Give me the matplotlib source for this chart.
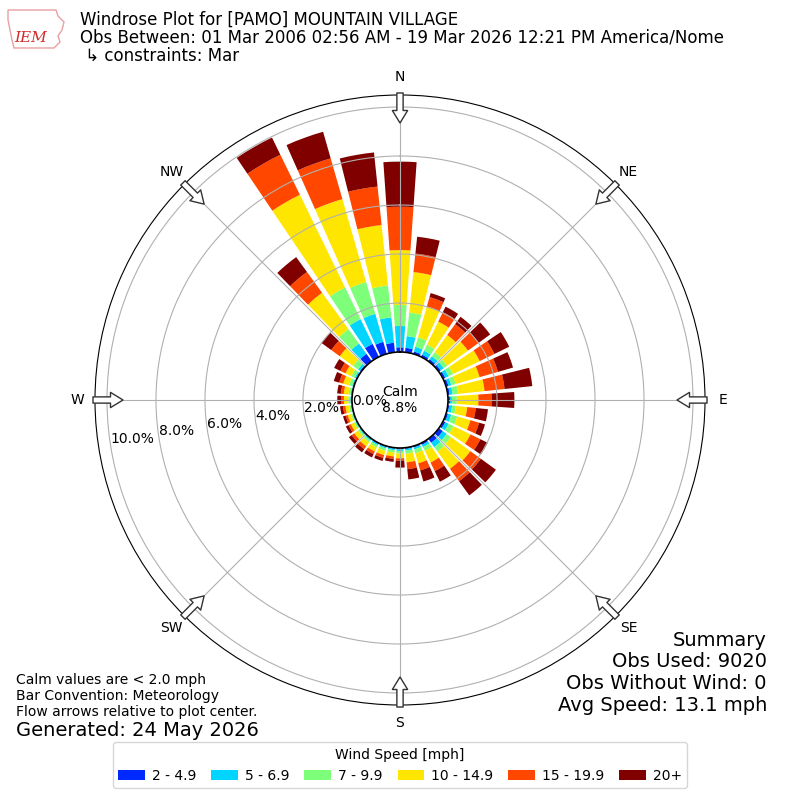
import numpy as np
import matplotlib
matplotlib.use("Agg")
import matplotlib.pyplot as plt
from matplotlib.patches import Polygon

# ---------------- data ----------------
directions = np.arange(0, 360, 10)  # degrees, meteorological
speed_labels = ["2 - 4.9", "5 - 6.9", "7 - 9.9", "10 - 14.9", "15 - 19.9", "20+"]
# percent of observations per direction bin, per speed class
pct_2_5 = [0.19, 0.18, 0.10, 0.10, 0.10, 0.10, 0.10, 0.10, 0.08, 0.08, 0.06, 0.08,
           0.10, 0.20, 0.20, 0.08, 0.06, 0.05, 0.05, 0.04, 0.04, 0.04, 0.03, 0.03,
           0.02, 0.02, 0.02, 0.03, 0.03, 0.03, 0.04, 0.06, 0.37, 0.59, 0.51, 0.39]
pct_5_7 = [0.87, 0.48, 0.20, 0.18, 0.15, 0.15, 0.15, 0.12, 0.12, 0.08, 0.12, 0.14,
           0.15, 0.20, 0.22, 0.10, 0.08, 0.07, 0.07, 0.06, 0.06, 0.06, 0.06, 0.05,
           0.04, 0.04, 0.04, 0.04, 0.04, 0.05, 0.06, 0.10, 0.52, 1.12, 1.19, 1.04]
pct_7_10 = [0.86, 0.97, 0.40, 0.27, 0.20, 0.17, 0.20, 0.18, 0.22, 0.20, 0.15, 0.25,
            0.22, 0.21, 0.22, 0.17, 0.16, 0.13, 0.10, 0.10, 0.10, 0.10, 0.09, 0.08,
            0.07, 0.06, 0.07, 0.08, 0.08, 0.12, 0.15, 0.25, 0.73, 1.44, 1.35, 1.31]
pct_10_15 = [2.24, 1.66, 1.30, 1.05, 0.87, 1.05, 1.21, 1.02, 1.09, 0.88, 0.47, 0.56,
             0.77, 0.98, 0.87, 0.53, 0.43, 0.35, 0.20, 0.16, 0.18, 0.18, 0.20, 0.19,
             0.15, 0.14, 0.15, 0.18, 0.20, 0.25, 0.27, 0.67, 1.83, 4.21, 3.52, 2.48]
pct_15_20 = [1.77, 0.76, 0.41, 0.43, 0.55, 0.54, 0.67, 0.78, 0.82, 0.54, 0.35, 0.37,
             0.45, 0.53, 0.63, 0.39, 0.30, 0.28, 0.10, 0.10, 0.12, 0.12, 0.14, 0.13,
             0.10, 0.09, 0.10, 0.12, 0.12, 0.17, 0.23, 0.43, 1.05, 1.82, 1.73, 1.58]
pct_20p = [1.84, 0.69, 0.17, 0.25, 0.37, 0.58, 0.67, 0.64, 1.14, 0.93, 0.50, 0.25,
           0.33, 0.76, 0.71, 0.48, 0.47, 0.42, 0.28, 0.12, 0.13, 0.15, 0.16, 0.14,
           0.12, 0.11, 0.12, 0.15, 0.15, 0.23, 0.28, 0.49, 0.75, 0.78, 1.13, 1.40]
series = [pct_2_5, pct_5_7, pct_7_10, pct_10_15, pct_15_20, pct_20p]

calm_pct = 8.8
rticks = [0, 2, 4, 6, 8, 10]
compass = ["N", "NE", "E", "SE", "S", "SW", "W", "NW"]

title_lines = ["Windrose Plot for [PAMO] MOUNTAIN VILLAGE",
               "Obs Between: 01 Mar 2006 02:56 AM - 19 Mar 2026 12:21 PM America/Nome",
               " \u21b3 constraints: Mar"]
notes = ["Calm values are < 2.0 mph", "Bar Convention: Meteorology",
         "Flow arrows relative to plot center."]
summary = ["Summary", "Obs Used: 9020", "Obs Without Wind: 0", "Avg Speed: 13.1 mph"]

# ---------------- figure ----------------
fig = plt.figure(figsize=(8, 8), dpi=100)
ax = fig.add_axes([0.11875, 0.11875, 0.7625, 0.7625], projection="polar")
ax.set_theta_zero_location("N")
ax.set_theta_direction(-1)

cmap = plt.get_cmap("jet")
colors = [cmap(v) for v in np.linspace(0, 1, 7)[1:]]

theta = np.deg2rad(directions)
width = np.deg2rad(8.0)
bottom = np.zeros(len(directions))
handles = []
for vals, col, lab in zip(series, colors, speed_labels):
    vals = np.asarray(vals)
    b = ax.bar(theta, vals, width=width, bottom=bottom, color=col,
               label=lab, zorder=1, linewidth=0)
    handles.append(b)
    bottom = bottom + vals

rmax = 10.49
ax.set_ylim(0, rmax)
ax.set_rorigin(-1.96)
ax.set_yticks(rticks)
ax.set_yticklabels([f"{v:.1f}%" for v in rticks], fontsize=10)
ax.set_rlabel_position(261)
ax.set_xticks(np.deg2rad(np.arange(0, 360, 45)))
ax.set_xticklabels(compass, fontsize=10)
ax.tick_params(axis="x", pad=2.5)
ax.grid(True, color="#b0b0b0", linewidth=0.8)
ax.spines["inner"].set_color("black")
ax.spines["inner"].set_linewidth(1.2)

ax.text(0.5, 0.5, f"Calm\n{calm_pct}%", transform=ax.transAxes,
        ha="center", va="center", fontsize=10, zorder=10)

# flow arrows on the rim, pointing at the center
span = rmax + 1.96
r_tail = -1.96 + 307 / 305 * span
r_tip = -1.96 + 277 / 305 * span
for ang in np.arange(0, 360, 45):
    ax.annotate("", xy=(np.deg2rad(ang), r_tip), xytext=(np.deg2rad(ang), r_tail),
                arrowprops=dict(arrowstyle="simple,head_length=0.9,head_width=1.1,tail_width=0.45",
                                fc="white", ec="#333333", lw=1.0, shrinkA=0, shrinkB=0),
                annotation_clip=False, zorder=5)

# ---------------- texts ----------------
for i, line in enumerate(title_lines):
    fig.text(80 / 800, 1 - (20 + 18 * i) / 800, line, fontsize=12, ha="left", va="center")

# logo stand-in (outline + lettering)
outline_px = [(8, 10), (56, 10), (58, 16), (64, 22), (62, 30), (58, 36), (60, 42),
              (54, 48), (14, 48), (12, 40), (10, 30), (8, 20)]
fig.patches.append(Polygon([(x / 800, 1 - y / 800) for x, y in outline_px], closed=True,
                           fill=False, ec="#e8a0a0", lw=1.0, transform=fig.transFigure))
fig.text(31 / 800, 1 - 38 / 800, "IEM", fontsize=11, color="#d42a2a", family="DejaVu Serif",
         style="italic", ha="center", va="center")

for i, line in enumerate(notes):
    fig.text(16 / 800, 1 - (680 + 16 * i) / 800, line, fontsize=10, ha="left", va="center")
fig.text(16 / 800, 1 - 730 / 800, "Generated: 24 May 2026", fontsize=14, ha="left", va="center")

for i, line in enumerate(summary):
    fig.text(767 / 800, 1 - (640 + 21.7 * i) / 800, line, fontsize=14, ha="right", va="center")

fig.legend(handles=handles, labels=speed_labels, loc="lower center",
           bbox_to_anchor=(0.5, 0.006), ncol=6, fontsize=10,
           title="Wind Speed [mph]", title_fontsize=10, handlelength=1.9,
           handletextpad=0.5, columnspacing=1.1)

fig.savefig("out.png", dpi=100)
